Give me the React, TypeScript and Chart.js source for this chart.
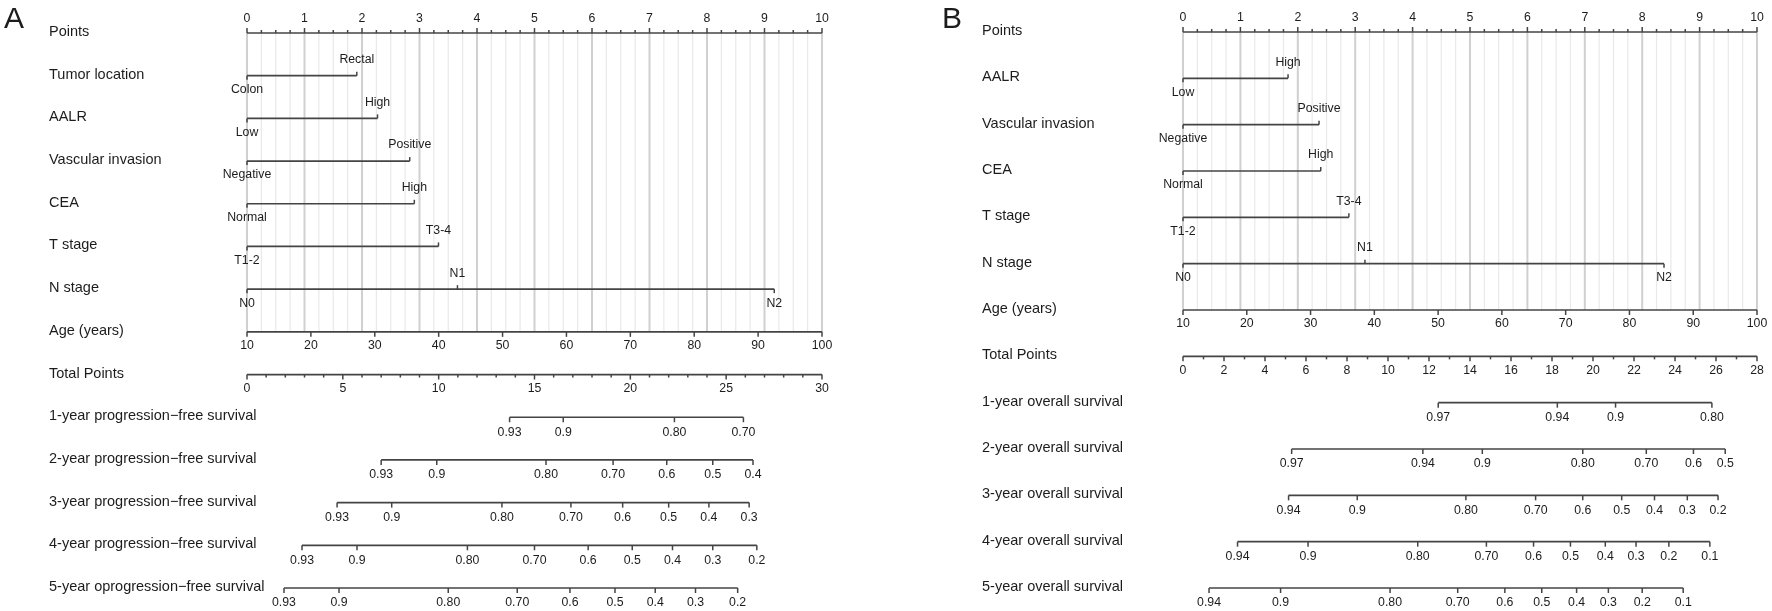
import React, { useEffect, useRef } from "react";
import { Chart, registerables } from "chart.js";
Chart.register(...registerables);

const FONT = "'Liberation Sans', Arial, Helvetica, sans-serif";
const LINE = "#444444";
const TEXT = "#1c1c1c";

// ---------- shared axes ----------
const POINT_TICKS = [0, 1, 2, 3, 4, 5, 6, 7, 8, 9, 10];
const POINT_MINOR_STEP = 0.25;
const AGE_TICKS = [10, 20, 30, 40, 50, 60, 70, 80, 90, 100];

// ---------- Panel A ----------
const A_VARS = ["Tumor location", "AALR", "Vascular invasion", "CEA", "T stage", "N stage"];
const A_LEVELS = [
  ["Colon", "Rectal"],
  ["Low", "High"],
  ["Negative", "Positive"],
  ["Normal", "High"],
  ["T1-2", "T3-4"],
  ["N0", "N1", "N2"],
];
const A_LEVEL_POINTS = [
  [0, 1.91],
  [0, 2.27],
  [0, 2.83],
  [0, 2.91],
  [0, 3.33],
  [0, 3.66, 9.17],
];
const A_TOTAL_MAX = 30;
const A_TOTAL_TICKS = [0, 5, 10, 15, 20, 25, 30];
const A_TOTAL_MINOR_STEP = 1;
const A_SURV = [
  "1-year progression\u2212free survival",
  "2-year progression\u2212free survival",
  "3-year progression\u2212free survival",
  "4-year progression\u2212free survival",
  "5-year oprogression\u2212free survival",
];
const A_SURV_TEXT = [
  ["0.93", "0.9", "0.80", "0.70"],
  ["0.93", "0.9", "0.80", "0.70", "0.6", "0.5", "0.4"],
  ["0.93", "0.9", "0.80", "0.70", "0.6", "0.5", "0.4", "0.3"],
  ["0.93", "0.9", "0.80", "0.70", "0.6", "0.5", "0.4", "0.3", "0.2"],
  ["0.93", "0.9", "0.80", "0.70", "0.6", "0.5", "0.4", "0.3", "0.2"],
];
const A_SURV_TOTAL = [
  [13.7, 16.5, 22.3, 25.9],
  [7.0, 9.9, 15.6, 19.1, 21.9, 24.3, 26.4],
  [4.7, 7.55, 13.3, 16.9, 19.6, 22.0, 24.1, 26.2],
  [2.87, 5.74, 11.5, 15.0, 17.8, 20.1, 22.2, 24.3, 26.6],
  [1.93, 4.8, 10.5, 14.1, 16.85, 19.2, 21.3, 23.4, 25.6],
];

// ---------- Panel B ----------
const B_VARS = ["AALR", "Vascular invasion", "CEA", "T stage", "N stage"];
const B_LEVELS = [
  ["Low", "High"],
  ["Negative", "Positive"],
  ["Normal", "High"],
  ["T1-2", "T3-4"],
  ["N0", "N1", "N2"],
];
const B_LEVEL_POINTS = [
  [0, 1.83],
  [0, 2.37],
  [0, 2.4],
  [0, 2.89],
  [0, 3.17, 8.38],
];
const B_TOTAL_MAX = 28;
const B_TOTAL_TICKS = [0, 2, 4, 6, 8, 10, 12, 14, 16, 18, 20, 22, 24, 26, 28];
const B_TOTAL_MINOR_STEP = 1;
const B_SURV = [
  "1-year overall survival",
  "2-year overall survival",
  "3-year overall survival",
  "4-year overall survival",
  "5-year overall survival",
];
const B_SURV_TEXT = [
  ["0.97", "0.94", "0.9", "0.80"],
  ["0.97", "0.94", "0.9", "0.80", "0.70", "0.6", "0.5"],
  ["0.94", "0.9", "0.80", "0.70", "0.6", "0.5", "0.4", "0.3", "0.2"],
  ["0.94", "0.9", "0.80", "0.70", "0.6", "0.5", "0.4", "0.3", "0.2", "0.1"],
  ["0.94", "0.9", "0.80", "0.70", "0.6", "0.5", "0.4", "0.3", "0.2", "0.1"],
];
const B_SURV_TOTAL = [
  [12.45, 18.26, 21.1, 25.8],
  [5.3, 11.7, 14.6, 19.5, 22.6, 24.9, 26.45],
  [5.15, 8.5, 13.8, 17.2, 19.5, 21.4, 23.0, 24.6, 26.1],
  [2.66, 6.1, 11.45, 14.8, 17.1, 18.9, 20.6, 22.1, 23.7, 25.7],
  [1.27, 4.76, 10.1, 13.4, 15.7, 17.5, 19.2, 20.75, 22.4, 24.4],
];

type Spec = {
  letter: string;
  letterX: number;
  labelX: number;
  width: number;
  padding: { left: number; right: number; top: number; bottom: number };
  vars: string[];
  levels: string[][];
  levelPoints: number[][];
  totalMax: number;
  totalTicks: number[];
  totalMinor: number;
  surv: string[];
  survText: string[][];
  survTotal: number[][];
};

const SPEC_A: Spec = {
  letter: "A",
  letterX: 4,
  labelX: 49,
  width: 880,
  padding: { left: 247, right: 58, top: 33, bottom: 23 },
  vars: A_VARS,
  levels: A_LEVELS,
  levelPoints: A_LEVEL_POINTS,
  totalMax: A_TOTAL_MAX,
  totalTicks: A_TOTAL_TICKS,
  totalMinor: A_TOTAL_MINOR_STEP,
  surv: A_SURV,
  survText: A_SURV_TEXT,
  survTotal: A_SURV_TOTAL,
};

const SPEC_B: Spec = {
  letter: "B",
  letterX: 62,
  labelX: 102,
  width: 892,
  padding: { left: 303, right: 15, top: 32, bottom: 23 },
  vars: B_VARS,
  levels: B_LEVELS,
  levelPoints: B_LEVEL_POINTS,
  totalMax: B_TOTAL_MAX,
  totalTicks: B_TOTAL_TICKS,
  totalMinor: B_TOTAL_MINOR_STEP,
  surv: B_SURV,
  survText: B_SURV_TEXT,
  survTotal: B_SURV_TOTAL,
};

function Nomogram({ spec, left }: { spec: Spec; left: number }) {
  const ref = useRef<HTMLCanvasElement | null>(null);

  useEffect(() => {
    const canvas = ref.current;
    if (!canvas) return;
    const nVars = spec.vars.length;
    const ageRow = nVars + 1;
    const totalRow = nVars + 2;
    const survRow0 = nVars + 3;
    const lastRow = survRow0 + spec.surv.length - 1;

    const lineDs = (data: { x: number; y: number }[], xAxisID: string) => ({
      type: "scatter" as const,
      data,
      xAxisID,
      yAxisID: "y",
      showLine: true,
      borderColor: LINE,
      borderWidth: 1.7,
      pointRadius: 0,
      clip: false as any,
    });

    const datasets: any[] = [];
    datasets.push(lineDs([{ x: POINT_TICKS[0], y: 0 }, { x: POINT_TICKS[POINT_TICKS.length - 1], y: 0 }], "x"));
    spec.levelPoints.forEach((pts, i) => {
      const sorted = [...pts].sort((a, b) => a - b);
      datasets.push(lineDs(sorted.map((p) => ({ x: p, y: i + 1 })), "x"));
    });
    datasets.push(lineDs([{ x: AGE_TICKS[0], y: ageRow }, { x: AGE_TICKS[AGE_TICKS.length - 1], y: ageRow }], "xa"));
    datasets.push(lineDs([{ x: 0, y: totalRow }, { x: spec.totalMax, y: totalRow }], "xt"));
    spec.survTotal.forEach((vals, i) => {
      datasets.push(lineDs([{ x: Math.min(...vals), y: survRow0 + i }, { x: Math.max(...vals), y: survRow0 + i }], "xt"));
    });

    const plugin = {
      id: "nomogram",
      beforeDatasetsDraw(chart: any) {
        const { ctx, scales } = chart;
        const x = scales.x, y = scales.y;
        const top = y.getPixelForValue(0);
        const bot = y.getPixelForValue(ageRow);
        ctx.save();
        const lo = POINT_TICKS[0], hi = POINT_TICKS[POINT_TICKS.length - 1];
        const n = Math.round((hi - lo) / POINT_MINOR_STEP);
        for (let k = 0; k <= n; k++) {
          const v = lo + k * POINT_MINOR_STEP;
          const major = POINT_TICKS.includes(v);
          const px = x.getPixelForValue(v);
          ctx.strokeStyle = major ? "#d0d0d0" : "#e9e9e9";
          ctx.lineWidth = major ? 2 : 1.2;
          ctx.beginPath();
          ctx.moveTo(px, top);
          ctx.lineTo(px, bot);
          ctx.stroke();
        }
        ctx.restore();
      },
      afterDatasetsDraw(chart: any) {
        const { ctx, scales } = chart;
        const x = scales.x, xa = scales.xa, xt = scales.xt, y = scales.y;
        ctx.save();
        ctx.strokeStyle = LINE;
        ctx.lineWidth = 1.5;
        ctx.fillStyle = TEXT;

        const tick = (px: number, py: number, len: number) => {
          ctx.beginPath();
          ctx.moveTo(px, py);
          ctx.lineTo(px, py + len);
          ctx.stroke();
        };

        // panel letter
        ctx.font = `30px ${FONT}`;
        ctx.textAlign = "left";
        ctx.textBaseline = "alphabetic";
        ctx.fillText(spec.letter, spec.letterX, 28);

        // row labels
        const rowLabels = ["Points", ...spec.vars, "Age (years)", "Total Points", ...spec.surv];
        ctx.font = `14.5px ${FONT}`;
        ctx.textAlign = "left";
        ctx.textBaseline = "middle";
        rowLabels.forEach((t, r) => {
          ctx.fillText(t, spec.labelX, y.getPixelForValue(r) - 1);
        });

        ctx.font = `12.3px ${FONT}`;
        ctx.textAlign = "center";

        // Points axis
        const py0 = y.getPixelForValue(0);
        const lo = POINT_TICKS[0], hi = POINT_TICKS[POINT_TICKS.length - 1];
        const n = Math.round((hi - lo) / POINT_MINOR_STEP);
        for (let k = 0; k <= n; k++) {
          const v = lo + k * POINT_MINOR_STEP;
          const major = POINT_TICKS.includes(v);
          tick(x.getPixelForValue(v), py0, major ? -5 : -3);
        }
        POINT_TICKS.forEach((v) => ctx.fillText(String(v), x.getPixelForValue(v), py0 - 14));

        // variables
        spec.levelPoints.forEach((pts, i) => {
          const py = y.getPixelForValue(i + 1);
          pts.forEach((p, j) => {
            const above = j % 2 === 1;
            const px = x.getPixelForValue(p);
            tick(px, py, above ? -4 : 4);
            ctx.fillText(spec.levels[i][j], px, above ? py - 16 : py + 14);
          });
        });

        // Age axis
        const pya = y.getPixelForValue(ageRow);
        AGE_TICKS.forEach((v) => {
          const px = xa.getPixelForValue(v);
          tick(px, pya, 5);
          ctx.fillText(String(v), px, pya + 14);
        });

        // Total points axis
        const pyt = y.getPixelForValue(totalRow);
        const nt = Math.round(spec.totalMax / spec.totalMinor);
        for (let k = 0; k <= nt; k++) {
          const v = k * spec.totalMinor;
          const major = spec.totalTicks.includes(v);
          tick(xt.getPixelForValue(v), pyt, major ? 5 : 3);
        }
        spec.totalTicks.forEach((v) => ctx.fillText(String(v), xt.getPixelForValue(v), pyt + 14));

        // survival scales
        spec.survTotal.forEach((vals, i) => {
          const py = y.getPixelForValue(survRow0 + i);
          vals.forEach((v, j) => {
            const px = xt.getPixelForValue(v);
            tick(px, py, 5);
            ctx.fillText(spec.survText[i][j], px, py + 15);
          });
        });
        ctx.restore();
      },
    };

    const chart = new Chart(canvas, {
      type: "scatter",
      data: { datasets },
      options: {
        animation: false,
        responsive: false,
        devicePixelRatio: 1,
        events: [],
        layout: { padding: spec.padding },
        plugins: { legend: { display: false }, tooltip: { enabled: false } },
        scales: {
          x: { type: "linear", min: POINT_TICKS[0], max: POINT_TICKS[POINT_TICKS.length - 1], display: false },
          xa: { type: "linear", axis: "x", min: AGE_TICKS[0], max: AGE_TICKS[AGE_TICKS.length - 1], display: false },
          xt: { type: "linear", axis: "x", min: 0, max: spec.totalMax, display: false },
          y: { type: "linear", min: 0, max: lastRow, reverse: true, display: false },
        },
      } as any,
      plugins: [plugin],
    });
    return () => chart.destroy();
  }, [spec]);

  return (
    <canvas
      ref={ref}
      width={spec.width}
      height={611}
      style={{ position: "absolute", left, top: 0, width: spec.width, height: 611 }}
    />
  );
}

export default function App() {
  return (
    <div style={{ position: "fixed", left: 0, top: 0, width: 1772, height: 611, background: "#ffffff" }}>
      <Nomogram spec={SPEC_A} left={0} />
      <Nomogram spec={SPEC_B} left={880} />
    </div>
  );
}
